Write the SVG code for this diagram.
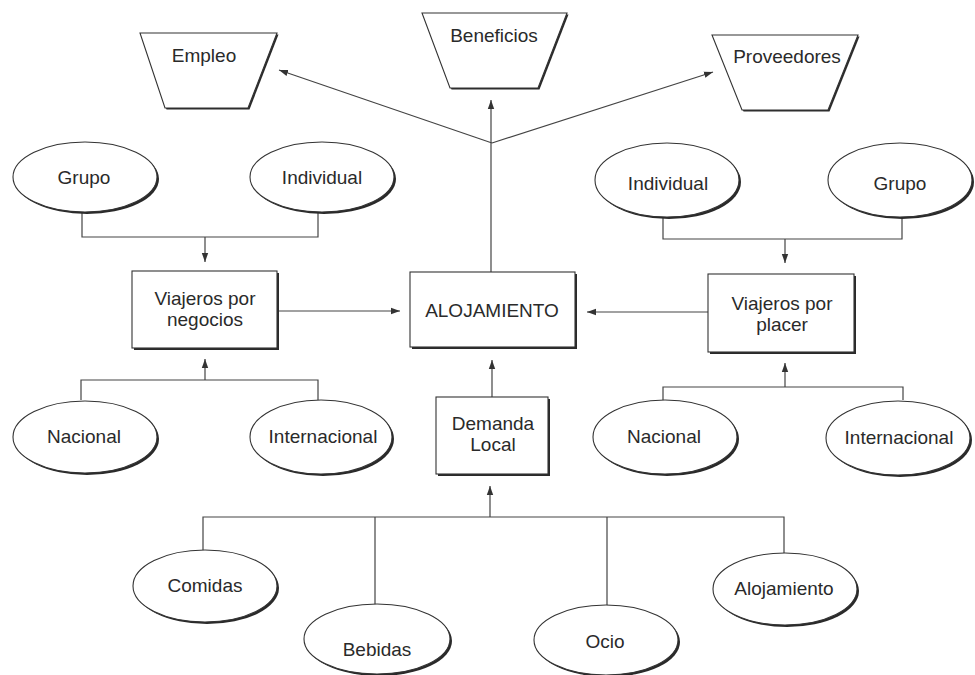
<svg xmlns="http://www.w3.org/2000/svg" width="975" height="675" viewBox="0 0 975 675">
<style>
.sh{fill:#2a2a2a;stroke:none}
.nd{fill:#fff;stroke:#333;stroke-width:1.1}
.t{font-family:"Liberation Sans",Arial,sans-serif;font-size:19px;fill:#2a2a2a;text-anchor:middle}
.c{fill:none;stroke:#444;stroke-width:1.2}
</style>
<defs>
<marker id="ah" markerUnits="userSpaceOnUse" markerWidth="10" markerHeight="8" refX="9" refY="4" orient="auto">
<path d="M0,0.8 L9,4 L0,7.2 z" fill="#333"/>
</marker>
</defs>
<rect width="975" height="675" fill="#fff"/>
<g id="connectors">
<path class="c" d="M492,143 L279,70" marker-end="url(#ah)"/>
<path class="c" d="M492,143 L713,72" marker-end="url(#ah)"/>
<path class="c" d="M491,272 L491,100" marker-end="url(#ah)"/>
<path class="c" d="M277,311 L400,311" marker-end="url(#ah)"/>
<path class="c" d="M708,312 L587,312" marker-end="url(#ah)"/>
<path class="c" d="M492,397 L492,360" marker-end="url(#ah)"/>
<path class="c" d="M490,517 L490,486" marker-end="url(#ah)"/>
<path class="c" d="M203,550 V517 H784 V553 M375,517 V605 M607,517 V606"/>
<path class="c" d="M82,212 V237 H318 V212"/>
<path class="c" d="M205,237 V262" marker-end="url(#ah)"/>
<path class="c" d="M81,400 V380 H318 V400"/>
<path class="c" d="M205,380 V359" marker-end="url(#ah)"/>
<path class="c" d="M663,217 V239 H902 V218"/>
<path class="c" d="M785,239 V263" marker-end="url(#ah)"/>
<path class="c" d="M663,400 V387 H903 V400"/>
<path class="c" d="M785,387 V363" marker-end="url(#ah)"/>
</g>
<g id="empleo">
<polygon class="sh" points="141.5,34.5 278.5,34.5 249.5,109.5 166.5,109.5"/>
<polygon class="nd" points="140,33 277,33 248,108 165,108"/>
<text class="t" x="204" y="62">Empleo</text>
</g>
<g id="beneficios">
<polygon class="sh" points="423.5,14.5 568.5,14.5 539.5,89.5 451.5,89.5"/>
<polygon class="nd" points="422,13 567,13 538,88 450,88"/>
<text class="t" x="494" y="42">Beneficios</text>
</g>
<g id="proveedores">
<polygon class="sh" points="713.5,36.5 859.5,36.5 829.5,111.5 743.5,111.5"/>
<polygon class="nd" points="712,35 858,35 828,110 742,110"/>
<text class="t" x="787" y="63">Proveedores</text>
</g>
<g id="alojamiento-central">
<rect class="sh" x="412" y="274" width="165" height="75"/>
<rect class="nd" x="410" y="272" width="165" height="75"/>
<text class="t" x="492" y="317">ALOJAMIENTO</text>
</g>
<g id="viajeros-negocios">
<rect class="sh" x="134" y="273" width="145" height="77"/>
<rect class="nd" x="132" y="271" width="145" height="77"/>
<text class="t" x="205" y="305">Viajeros por</text>
<text class="t" x="205" y="326">negocios</text>
</g>
<g id="viajeros-placer">
<rect class="sh" x="710" y="276" width="146" height="78"/>
<rect class="nd" x="708" y="274" width="146" height="78"/>
<text class="t" x="782" y="310">Viajeros por</text>
<text class="t" x="782" y="331">placer</text>
</g>
<g id="demanda-local">
<rect class="sh" x="438" y="399" width="112" height="77"/>
<rect class="nd" x="436" y="397" width="112" height="77"/>
<text class="t" x="493" y="430">Demanda</text>
<text class="t" x="493" y="451">Local</text>
</g>
<g id="grupo-izq">
<ellipse class="sh" cx="87" cy="179" rx="72" ry="35"/>
<ellipse class="nd" cx="85" cy="177" rx="72" ry="35"/>
<text class="t" x="84" y="184">Grupo</text>
</g>
<g id="individual-izq">
<ellipse class="sh" cx="324" cy="179" rx="72" ry="35"/>
<ellipse class="nd" cx="322" cy="177" rx="72" ry="35"/>
<text class="t" x="322" y="184">Individual</text>
</g>
<g id="individual-der">
<ellipse class="sh" cx="669" cy="182" rx="72" ry="37"/>
<ellipse class="nd" cx="667" cy="180" rx="72" ry="37"/>
<text class="t" x="668" y="190">Individual</text>
</g>
<g id="grupo-der">
<ellipse class="sh" cx="902" cy="182" rx="72" ry="37"/>
<ellipse class="nd" cx="900" cy="180" rx="72" ry="37"/>
<text class="t" x="900" y="190">Grupo</text>
</g>
<g id="nacional-izq">
<ellipse class="sh" cx="87" cy="439" rx="72" ry="36"/>
<ellipse class="nd" cx="85" cy="437" rx="72" ry="36"/>
<text class="t" x="84" y="443">Nacional</text>
</g>
<g id="internacional-izq">
<ellipse class="sh" cx="323" cy="439" rx="71" ry="37"/>
<ellipse class="nd" cx="321" cy="437" rx="71" ry="37"/>
<text class="t" x="323" y="443">Internacional</text>
</g>
<g id="nacional-der">
<ellipse class="sh" cx="667" cy="439" rx="72" ry="37"/>
<ellipse class="nd" cx="665" cy="437" rx="72" ry="37"/>
<text class="t" x="664" y="443">Nacional</text>
</g>
<g id="internacional-der">
<ellipse class="sh" cx="900" cy="440" rx="72" ry="37"/>
<ellipse class="nd" cx="898" cy="438" rx="72" ry="37"/>
<text class="t" x="899" y="444">Internacional</text>
</g>
<g id="comidas">
<ellipse class="sh" cx="207" cy="588" rx="72" ry="36"/>
<ellipse class="nd" cx="205" cy="586" rx="72" ry="36"/>
<text class="t" x="205" y="592">Comidas</text>
</g>
<g id="bebidas">
<ellipse class="sh" cx="379" cy="641" rx="73" ry="35"/>
<ellipse class="nd" cx="377" cy="639" rx="73" ry="35"/>
<text class="t" x="377" y="656">Bebidas</text>
</g>
<g id="ocio">
<ellipse class="sh" cx="608" cy="642" rx="72" ry="35"/>
<ellipse class="nd" cx="606" cy="640" rx="72" ry="35"/>
<text class="t" x="605" y="648">Ocio</text>
</g>
<g id="alojamiento">
<ellipse class="sh" cx="787" cy="591" rx="72" ry="36"/>
<ellipse class="nd" cx="785" cy="589" rx="72" ry="36"/>
<text class="t" x="784" y="595">Alojamiento</text>
</g>
</svg>
